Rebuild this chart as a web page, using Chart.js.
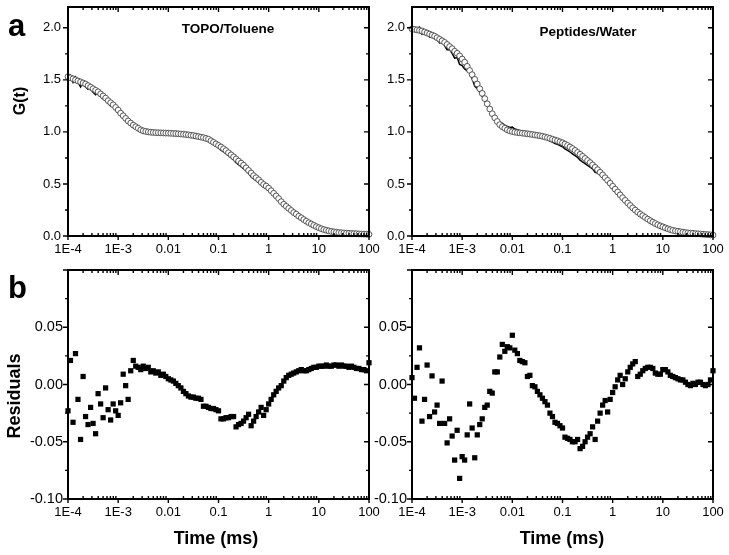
<!DOCTYPE html>
<html>
<head>
<meta charset="utf-8">
<script src="https://cdn.jsdelivr.net/npm/chart.js@4.4.1/dist/chart.umd.min.js"></script>
<style>
  body { margin: 0; background: #fff; }
  #page { position: relative; width: 729px; height: 555px; overflow: hidden; background: #fff; }
  canvas { position: absolute; left: 0; top: 0; }
  .t { position: absolute; font-family: "Liberation Sans", Arial, sans-serif; font-weight: bold; color: #000; line-height: 1; white-space: nowrap; }
</style>
</head>
<body>
<div id="page">
  <canvas id="topo" width="729" height="555"></canvas>
  <canvas id="pep" width="729" height="555"></canvas>
  <canvas id="topoRes" width="729" height="555"></canvas>
  <canvas id="pepRes" width="729" height="555"></canvas>

  <div class="t" style="left:8px;top:10px;font-size:31px">a</div>
  <div class="t" style="left:8px;top:272px;font-size:31px">b</div>
  <div class="t" style="left:228px;top:22px;font-size:13.5px;transform:translateX(-50%)">TOPO/Toluene</div>
  <div class="t" style="left:588px;top:25px;font-size:13.5px;transform:translateX(-50%)">Peptides/Water</div>
  <div class="t" style="left:20px;top:101px;font-size:16px;transform:translate(-50%,-50%) rotate(-90deg)">G(t)</div>
  <div class="t" style="left:14px;top:396px;font-size:18px;transform:translate(-50%,-50%) rotate(-90deg)">Residuals</div>
  <div class="t" style="left:216px;top:538px;font-size:18px;transform:translate(-50%,-50%)">Time (ms)</div>
  <div class="t" style="left:562px;top:538px;font-size:18px;transform:translate(-50%,-50%)">Time (ms)</div>
</div>

<script>
// lag times (ms), shared by all four panels
const lagTimes = [
  1.00e-4, 1.12e-4, 1.26e-4, 1.41e-4, 1.58e-4, 1.78e-4, 2.00e-4, 2.24e-4, 2.51e-4, 2.82e-4, 3.16e-4, 3.55e-4, 3.98e-4, 4.47e-4, 5.01e-4, 5.62e-4, 6.31e-4, 7.08e-4, 7.94e-4, 8.91e-4,
  1.00e-3, 1.12e-3, 1.26e-3, 1.41e-3, 1.58e-3, 1.78e-3, 2.00e-3, 2.24e-3, 2.51e-3, 2.82e-3, 3.16e-3, 3.55e-3, 3.98e-3, 4.47e-3, 5.01e-3, 5.62e-3, 6.31e-3, 7.08e-3, 7.94e-3, 8.91e-3,
  1.00e-2, 1.12e-2, 1.26e-2, 1.41e-2, 1.58e-2, 1.78e-2, 2.00e-2, 2.24e-2, 2.51e-2, 2.82e-2, 3.16e-2, 3.55e-2, 3.98e-2, 4.47e-2, 5.01e-2, 5.62e-2, 6.31e-2, 7.08e-2, 7.94e-2, 8.91e-2,
  0.100, 0.112, 0.126, 0.141, 0.158, 0.178, 0.200, 0.224, 0.251, 0.282, 0.316, 0.355, 0.398, 0.447, 0.501, 0.562, 0.631, 0.708, 0.794, 0.891,
  1.00, 1.12, 1.26, 1.41, 1.58, 1.78, 2.00, 2.24, 2.51, 2.82, 3.16, 3.55, 3.98, 4.47, 5.01, 5.62, 6.31, 7.08, 7.94, 8.91,
  10.0, 11.2, 12.6, 14.1, 15.8, 17.8, 20.0, 22.4, 25.1, 28.2, 31.6, 35.5, 39.8, 44.7, 50.1, 56.2, 63.1, 70.8, 79.4, 89.1,
  100
];

// TOPO/Toluene: fit (open circles), measured curve (line), residuals
const topoFit = [
  1.53, 1.52, 1.51, 1.50, 1.49, 1.48, 1.47, 1.46, 1.445, 1.43, 1.415, 1.40, 1.385, 1.365, 1.345, 1.325, 1.30, 1.28, 1.26, 1.235,
  1.21, 1.18, 1.155, 1.13, 1.105, 1.085, 1.065, 1.05, 1.035, 1.02, 1.01, 1.005, 1.0, 0.997, 0.995, 0.993, 0.992, 0.991, 0.99, 0.989,
  0.988, 0.987, 0.985, 0.984, 0.982, 0.98, 0.978, 0.975, 0.972, 0.968, 0.965, 0.96, 0.955, 0.95, 0.945, 0.938, 0.93, 0.915, 0.90, 0.885,
  0.87, 0.855, 0.838, 0.82, 0.80, 0.78, 0.76, 0.74, 0.72, 0.70, 0.68, 0.655, 0.63, 0.605, 0.58, 0.56, 0.54, 0.515, 0.495, 0.48,
  0.46, 0.435, 0.41, 0.385, 0.36, 0.33, 0.305, 0.285, 0.265, 0.245, 0.225, 0.21, 0.19, 0.175, 0.158, 0.142, 0.128, 0.115, 0.102, 0.09,
  0.08, 0.07, 0.062, 0.055, 0.049, 0.044, 0.04, 0.036, 0.033, 0.031, 0.029, 0.027, 0.026, 0.024, 0.023, 0.022, 0.02, 0.019, 0.018, 0.017,
  0.016
];
const topoData = [
  1.507, 1.541, 1.477, 1.527, 1.477, 1.432, 1.477, 1.432, 1.41, 1.41, 1.381, 1.357, 1.377, 1.348, 1.316, 1.322, 1.278, 1.249, 1.243, 1.212,
  1.183, 1.164, 1.164, 1.129, 1.092, 1.097, 1.086, 1.066, 1.05, 1.033, 1.026, 1.019, 1.015, 1.008, 1.007, 1.003, 1.003, 0.999, 0.999, 0.996,
  0.993, 0.991, 0.988, 0.985, 0.981, 0.977, 0.972, 0.967, 0.962, 0.957, 0.954, 0.948, 0.943, 0.937, 0.926, 0.919, 0.91, 0.894, 0.879, 0.863,
  0.847, 0.825, 0.808, 0.791, 0.771, 0.752, 0.732, 0.703, 0.685, 0.666, 0.648, 0.626, 0.604, 0.569, 0.548, 0.532, 0.516, 0.495, 0.468, 0.458,
  0.443, 0.422, 0.401, 0.379, 0.357, 0.329, 0.308, 0.291, 0.273, 0.254, 0.235, 0.221, 0.202, 0.188, 0.17, 0.154, 0.141, 0.129, 0.117, 0.105,
  0.096, 0.086, 0.078, 0.072, 0.065, 0.06, 0.057, 0.053, 0.049, 0.048, 0.045, 0.043, 0.041, 0.04, 0.038, 0.036, 0.034, 0.032, 0.031, 0.029,
  0.035
];
const topoResid = [
  -0.023, 0.021, -0.033, 0.027, -0.013, -0.048, 0.007, -0.028, -0.035, -0.020, -0.034, -0.043, -0.008, -0.017, -0.029, -0.003, -0.022, -0.031, -0.017, -0.023,
  -0.027, -0.016, 0.009, -0.001, -0.013, 0.012, 0.021, 0.016, 0.015, 0.013, 0.016, 0.014, 0.015, 0.011, 0.012, 0.010, 0.011, 0.008, 0.009, 0.007,
  0.005, 0.004, 0.003, 0.001, -0.001, -0.003, -0.006, -0.008, -0.010, -0.011, -0.011, -0.012, -0.012, -0.013, -0.019, -0.019, -0.020, -0.021, -0.021, -0.022,
  -0.023, -0.030, -0.030, -0.029, -0.029, -0.028, -0.028, -0.037, -0.035, -0.034, -0.032, -0.029, -0.026, -0.036, -0.032, -0.028, -0.024, -0.020, -0.027, -0.022,
  -0.017, -0.013, -0.009, -0.006, -0.003, -0.001, 0.003, 0.006, 0.008, 0.009, 0.010, 0.011, 0.012, 0.013, 0.012, 0.012, 0.013, 0.014, 0.015, 0.015,
  0.016, 0.016, 0.016, 0.017, 0.016, 0.016, 0.017, 0.017, 0.016, 0.017, 0.016, 0.016, 0.015, 0.016, 0.015, 0.014, 0.014, 0.013, 0.013, 0.012,
  0.019
];

// Peptides/Water
const pepFit = [
  1.99, 1.985, 1.98, 1.975, 1.97, 1.96, 1.95, 1.94, 1.93, 1.92, 1.905, 1.89, 1.875, 1.86, 1.84, 1.82, 1.80, 1.775, 1.755, 1.73,
  1.70, 1.67, 1.63, 1.59, 1.55, 1.505, 1.46, 1.415, 1.37, 1.32, 1.27, 1.22, 1.175, 1.135, 1.10, 1.07, 1.05, 1.035, 1.02, 1.01,
  1.003, 0.998, 0.994, 0.991, 0.988, 0.985, 0.982, 0.979, 0.975, 0.971, 0.967, 0.963, 0.958, 0.952, 0.945, 0.938, 0.93, 0.922, 0.914, 0.905,
  0.895, 0.883, 0.87, 0.855, 0.84, 0.822, 0.803, 0.785, 0.765, 0.745, 0.725, 0.705, 0.683, 0.66, 0.637, 0.612, 0.587, 0.56, 0.534, 0.507,
  0.478, 0.45, 0.423, 0.395, 0.368, 0.342, 0.317, 0.293, 0.27, 0.249, 0.229, 0.21, 0.195, 0.178, 0.162, 0.147, 0.133, 0.12, 0.108, 0.097,
  0.088, 0.078, 0.069, 0.061, 0.054, 0.049, 0.045, 0.041, 0.037, 0.033, 0.03, 0.028, 0.026, 0.023, 0.021, 0.019, 0.017, 0.015, 0.013, 0.011,
  0.009
];
const pepData = [
  1.996, 1.973, 1.995, 2.007, 1.938, 1.947, 1.967, 1.912, 1.938, 1.896, 1.887, 1.856, 1.878, 1.826, 1.789, 1.79, 1.755, 1.709, 1.715, 1.648,
  1.637, 1.604, 1.586, 1.573, 1.512, 1.441, 1.416, 1.38, 1.34, 1.30, 1.252, 1.214, 1.168, 1.146, 1.111, 1.094, 1.085, 1.064, 1.053, 1.042,
  1.046, 1.028, 1.021, 1.012, 1.008, 1.004, 0.989, 0.987, 0.974, 0.969, 0.961, 0.954, 0.946, 0.937, 0.927, 0.913, 0.902, 0.889, 0.88, 0.869,
  0.857, 0.837, 0.823, 0.807, 0.79, 0.772, 0.755, 0.729, 0.711, 0.695, 0.679, 0.662, 0.646, 0.612, 0.605, 0.587, 0.569, 0.546, 0.51, 0.494,
  0.471, 0.448, 0.427, 0.403, 0.368, 0.347, 0.328, 0.308, 0.288, 0.269, 0.236, 0.219, 0.207, 0.192, 0.177, 0.162, 0.147, 0.13, 0.117, 0.106,
  0.101, 0.091, 0.08, 0.069, 0.061, 0.055, 0.05, 0.045, 0.041, 0.035, 0.03, 0.027, 0.027, 0.023, 0.023, 0.021, 0.017, 0.014, 0.013, 0.015,
  0.021
];
const pepResid = [
  0.006, -0.012, 0.015, 0.032, -0.032, -0.013, 0.017, -0.028, 0.0075, -0.024, -0.018, -0.034, 0.003, -0.034, -0.051, -0.030, -0.045, -0.066, -0.040, -0.082,
  -0.063, -0.066, -0.044, -0.017, -0.038, -0.064, -0.044, -0.035, -0.030, -0.020, -0.018, -0.006, -0.0075, 0.011, 0.011, 0.024, 0.035, 0.029, 0.033, 0.032,
  0.043, 0.030, 0.027, 0.021, 0.020, 0.019, 0.007, 0.008, -0.001, -0.002, -0.006, -0.009, -0.012, -0.015, -0.018, -0.025, -0.028, -0.033, -0.034, -0.036,
  -0.038, -0.046, -0.047, -0.048, -0.050, -0.050, -0.048, -0.056, -0.054, -0.050, -0.046, -0.043, -0.037, -0.048, -0.032, -0.025, -0.018, -0.014, -0.024, -0.013,
  -0.007, -0.002, 0.004, 0.008, 0.0, 0.005, 0.011, 0.015, 0.018, 0.020, 0.007, 0.009, 0.012, 0.014, 0.015, 0.015, 0.014, 0.010, 0.009, 0.009,
  0.013, 0.013, 0.011, 0.008, 0.007, 0.006, 0.005, 0.004, 0.004, 0.002, 0.0, -0.001, 0.001, 0.0, 0.002, 0.002, 0.0, -0.001, 0.0, 0.004,
  0.012
];

// axis ticks
const xTickValues = [1e-4, 1e-3, 0.01, 0.1, 1, 10, 100];
const xTickLabels = ['1E-4', '1E-3', '0.01', '0.1', '1', '10', '100'];
const gTickValues = [0, 0.5, 1.0, 1.5, 2.0];
const gTickLabels = ['0.0', '0.5', '1.0', '1.5', '2.0'];
const resTickValues = [-0.10, -0.05, 0, 0.05];
const resTickLabels = ['-0.10', '-0.05', '0.00', '0.05'];

const FONT = '"Liberation Sans", Arial, sans-serif';
const W = 729, H = 555;

// frame + inward/outward tick marks, Origin style
const framePlugin = {
  id: 'frame',
  afterDraw(chart, args, opts) {
    const { ctx, chartArea: a } = chart;
    const xs = chart.scales.x, ys = chart.scales.y;
    ctx.save();
    ctx.strokeStyle = '#000';
    ctx.lineWidth = 1.4;
    ctx.beginPath();
    for (let e = -4; e <= 2; e++) {
      for (let m = 1; m <= 9; m++) {
        const v = m * Math.pow(10, e);
        if (v > xs.max * 1.0001) break;
        const px = xs.getPixelForValue(v);
        ctx.moveTo(px, a.top);
        ctx.lineTo(px, a.top + (m === 1 ? 5 : 3));
        ctx.moveTo(px, a.bottom);
        ctx.lineTo(px, m === 1 ? a.bottom + 4 : a.bottom - 3);
      }
    }
    const n = Math.floor((ys.max - ys.min) / opts.minor + 1e-6);
    for (let k = 0; k <= n; k++) {
      const py = ys.getPixelForValue(ys.min + k * opts.minor);
      const len = k % 2 === 0 ? 5 : 3;
      ctx.moveTo(a.left, py); ctx.lineTo(a.left - len, py);
      ctx.moveTo(a.right, py); ctx.lineTo(a.right - len, py);
    }
    ctx.stroke();
    ctx.lineWidth = 2;
    ctx.strokeRect(a.left, a.top, a.right - a.left, a.bottom - a.top);
    ctx.restore();
  }
};

function pts(ys) {
  return lagTimes.map((t, i) => ({ x: t, y: ys[i] }));
}

function makePanel(id, box, datasets, y) {
  return new Chart(document.getElementById(id), {
    type: 'scatter',
    data: { datasets: datasets },
    plugins: [framePlugin],
    options: {
      responsive: false,
      animation: false,
      devicePixelRatio: 1,
      layout: { padding: { left: 0, top: box.top, right: W - box.right, bottom: 0 } },
      plugins: {
        legend: { display: false },
        tooltip: { enabled: false },
        frame: { minor: y.minor }
      },
      scales: {
        x: {
          type: 'logarithmic',
          min: 1e-4,
          max: 100,
          grid: { display: false, drawTicks: false },
          border: { display: false },
          afterBuildTicks: s => { s.ticks = xTickValues.map(v => ({ value: v })); },
          afterFit: s => { s.height = H - box.bottom; s.paddingLeft = 0; s.paddingRight = 0; },
          ticks: {
            autoSkip: false, maxRotation: 0, padding: 6, color: '#000',
            font: { family: FONT, size: 13 },
            callback: (v, i) => xTickLabels[i]
          }
        },
        y: {
          min: y.min,
          max: y.max,
          grid: { display: false, drawTicks: false },
          border: { display: false },
          afterBuildTicks: s => { s.ticks = y.values.map(v => ({ value: v })); },
          afterFit: s => { s.width = box.left; s.paddingTop = 0; s.paddingBottom = 0; },
          ticks: {
            padding: y.pad, color: '#000',
            font: { family: FONT, size: y.size },
            callback: (v, i) => y.labels[i]
          }
        }
      }
    }
  });
}

const fitCircles = ys => ({
  data: pts(ys), showLine: false, clip: false,
  pointStyle: 'circle', pointRadius: 2.9, pointBorderWidth: 0.9,
  pointBorderColor: '#444', pointBackgroundColor: '#fff'
});
const dataLine = ys => ({
  data: pts(ys), showLine: true, clip: false,
  borderColor: '#000', borderWidth: 1.5, pointRadius: 0
});
const residSquares = ys => ({
  data: pts(ys), showLine: false, clip: false,
  pointStyle: 'rect', pointRadius: 3.7, borderWidth: 0,
  pointBackgroundColor: '#000', pointBorderWidth: 0
});

const gAxis = { min: 0, max: 2.2, minor: 0.25, values: gTickValues, labels: gTickLabels, size: 13, pad: 7 };
const rAxis = { min: -0.1, max: 0.1, minor: 0.025, values: resTickValues, labels: resTickLabels, size: 14.5, pad: 5 };

makePanel('topo', { left: 68, top: 7, right: 369, bottom: 236 }, [fitCircles(topoFit), dataLine(topoData)], gAxis);
makePanel('pep', { left: 412, top: 7, right: 713, bottom: 236 }, [fitCircles(pepFit), dataLine(pepData)], gAxis);
makePanel('topoRes', { left: 68, top: 270, right: 369, bottom: 499 }, [residSquares(topoResid)], rAxis);
makePanel('pepRes', { left: 412, top: 270, right: 713, bottom: 499 }, [residSquares(pepResid)], rAxis);
</script>
</body>
</html>
